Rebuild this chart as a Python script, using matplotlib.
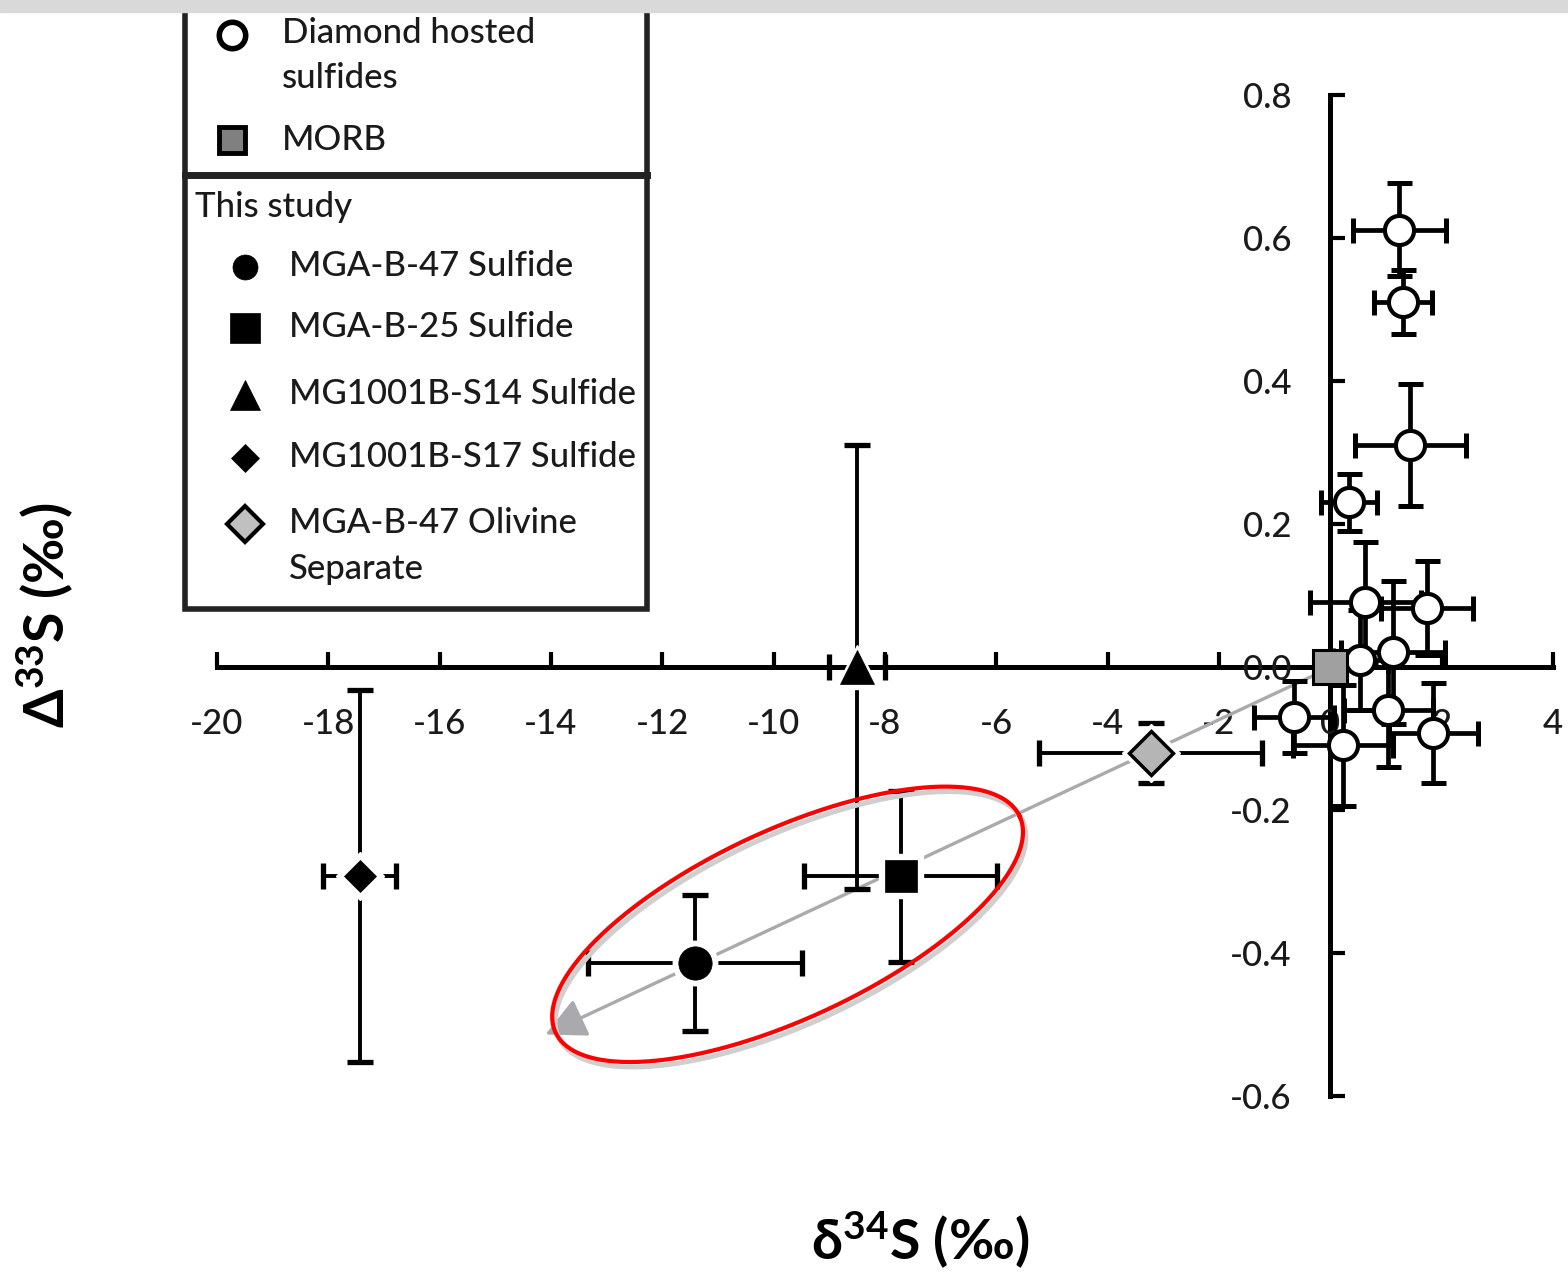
import matplotlib
matplotlib.use("Agg")
import numpy as np
import matplotlib.pyplot as plt
from matplotlib.lines import Line2D
from matplotlib.patches import Rectangle

plt.rcParams['font.family'] = ['Lato', 'DejaVu Sans']
plt.rcParams['font.weight'] = 'medium'
plt.rcParams['axes.unicode_minus'] = False
plt.rcParams['mathtext.fontset'] = 'custom'
plt.rcParams['mathtext.rm'] = 'Lato:bold'
plt.rcParams['mathtext.it'] = 'Lato:bold'
plt.rcParams['mathtext.bf'] = 'Lato:bold'
plt.rcParams['mathtext.default'] = 'rm'
plt.rcParams['mathtext.fallback'] = 'stixsans'

# diamond hosted sulfides (literature)
dia_x = [1.24, 1.31, 1.44, 0.33, 0.63, 1.74, 0.54, 1.13, -0.66, 1.04, 1.85, 0.23]
dia_y = [0.611, 0.51, 0.31, 0.23, 0.09, 0.082, 0.01, 0.02, -0.07, -0.06, -0.092, -0.11]
dia_xerr = [0.83, 0.52, 1.0, 0.5, 1.0, 0.83, 0.5, 0.93, 0.72, 0.8, 0.8, 0.9]
dia_yerr = [0.065, 0.045, 0.085, 0.04, 0.085, 0.066, 0.07, 0.1, 0.05, 0.08, 0.07, 0.085]

# MORB
morb_x = [0.0]
morb_y = [0.0]

# this study
study_names = ['MGA-B-47 Sulfide', 'MGA-B-25 Sulfide', 'MG1001B-S14 Sulfide',
               'MG1001B-S17 Sulfide', 'MGA-B-47 Olivine\nSeparate']
study_x = [-11.42, -7.72, -8.5, -17.44, -3.23]
study_y = [-0.414, -0.293, 0.0, -0.293, -0.12]
study_xerr = [1.92, 1.73, 0.5, 0.65, 2.0]
study_yerr = [0.095, 0.12, 0.31, 0.26, 0.042]

# arrow from MORB towards the sulfides, and the highlighted group
arrow_start = (-0.27, -0.011)
arrow_end = (-14.1, -0.514)
ellipse_center = (-9.75, -0.36)

x_ticks = list(range(-20, 5, 2))
y_ticks = [-0.6, -0.4, -0.2, 0.0, 0.2, 0.4, 0.6, 0.8]

W, H = 1568, 1273
fig = plt.figure(figsize=(W / 100, H / 100), dpi=100)
ax = fig.add_axes([217 / W, 1 - 1096 / H, 1336 / W, 1001.5 / H])
ax.set_xlim(-20, 4)
ax.set_ylim(-0.6, 0.8)

for s in ['top', 'right']:
    ax.spines[s].set_visible(False)
ax.spines['left'].set_position(('data', 0))
ax.spines['bottom'].set_position(('data', 0))
for s in ['left', 'bottom']:
    ax.spines[s].set_linewidth(3.6)
    ax.spines[s].set_zorder(1)
ax.set_xticks(x_ticks)
ax.set_yticks(y_ticks)
ax.set_xticklabels([str(v) for v in x_ticks])
ax.set_yticklabels(['%.1f' % v for v in y_ticks])
ax.tick_params(axis='both', direction='in', length=11, width=3, labelsize=25,
               labelcolor='#1a1a1a')
ax.tick_params(axis='x', pad=30)
ax.tick_params(axis='y', pad=28)
ax.patch.set_visible(False)

# arrow
ax.annotate('', xy=arrow_end, xytext=arrow_start,
            arrowprops=dict(arrowstyle='-|>', mutation_scale=62, lw=2.4,
                            color='#a9a9ae', shrinkA=0, shrinkB=0),
            zorder=2, annotation_clip=False)

# diamond hosted sulfides
ax.errorbar(dia_x, dia_y, xerr=dia_xerr, yerr=dia_yerr, fmt='none', ecolor='black',
            elinewidth=3.4, capsize=9, capthick=3.6, zorder=3, clip_on=False)
ax.plot(dia_x, dia_y, 'o', ms=21, mfc='white', mec='black', mew=3, zorder=4, clip_on=False)

# MORB
ax.plot(morb_x, morb_y, 's', ms=25, mfc='#a0a0a0', mec='black', mew=2.2, zorder=6, clip_on=False)

# this study
ax.errorbar(study_x, study_y, xerr=study_xerr, yerr=study_yerr, fmt='none', ecolor='black',
            elinewidth=2.8, capsize=9.5, capthick=3.8, zorder=3, clip_on=False)
mk = ['o', 's', '^', 'D', 'D']
ms = [24, 23, 24, 16, 22]
fc = ['black', 'black', 'black', 'black', '#b5b5b5']
for i in range(len(study_x)):
    ax.plot(study_x[i], study_y[i], mk[i], ms=ms[i] + 8, mfc='white', mec='white', zorder=4,
            clip_on=False)
    ax.plot(study_x[i], study_y[i], mk[i], ms=ms[i], mfc=fc[i], mec='black',
            mew=2.5 if i == 4 else 0.5, zorder=5, clip_on=False)

# red ellipse drawn in pixel space around the group
c = ax.transData.transform(ellipse_center)
t = np.linspace(0, 2 * np.pi, 400)
th = np.deg2rad(25)
a, b = 256, 94
ex = c[0] + a * np.cos(t) * np.cos(th) - b * np.sin(t) * np.sin(th)
ey = c[1] + a * np.cos(t) * np.sin(th) + b * np.sin(t) * np.cos(th)
inv = ax.transData.inverted()
sh = inv.transform(np.column_stack([ex + 3, ey - 5]))
pts = inv.transform(np.column_stack([ex, ey]))
ax.plot(sh[:, 0], sh[:, 1], color='#cfcfcf', lw=3.5, zorder=7, clip_on=False)
ax.plot(pts[:, 0], pts[:, 1], color='#ff0000', lw=3, zorder=8, clip_on=False)

# axis titles
fig.text(920 / W, 1 - 1240 / H, r'$\delta^{34}$S (‰)', fontsize=40, fontweight='bold',
         ha='center', va='center')
fig.text(45 / W, 1 - 615 / H, r'$\Delta^{33}$S (‰)', fontsize=40, fontweight='bold',
         ha='center', va='center', rotation=90)


# legend, drawn by hand
def fp(x, y):
    return x / W, 1 - y / H


box = Rectangle(fp(185, 609), (647 - 185) / W, (609 - 0) / H, transform=fig.transFigure,
                fill=False, lw=4, ec='#222222', zorder=10)
fig.patches.append(box)
fig.add_artist(Line2D([185 / W, 647 / W], [1 - 175 / H, 1 - 175 / H], lw=5, color='#222222'))

fig.add_artist(Line2D([232 / W], [1 - 35 / H], marker='o', ms=19, mfc='white', mec='black',
                      mew=4, ls='none'))
fig.text(282 / W, 1 - 33 / H, 'Diamond hosted', fontsize=25, va='center', color='#1a1a1a')
fig.text(282 / W, 1 - 78 / H, 'sulfides', fontsize=25, va='center', color='#1a1a1a')
fig.add_artist(Line2D([232 / W], [1 - 140 / H], marker='s', ms=19, mfc='#808080', mec='black',
                      mew=3.5, ls='none'))
fig.text(282 / W, 1 - 140 / H, 'MORB', fontsize=25, va='center', color='#1a1a1a')

fig.text(195 / W, 1 - 207 / H, 'This study', fontsize=25, va='center', color='#1a1a1a')
leg_y = [267, 328, 395, 458, 524]
leg_ms = [18, 21, 21, 14, 18]
leg_fc = ['black', 'black', 'black', 'black', '#c0c0c0']
for i, name in enumerate(study_names):
    fig.add_artist(Line2D([245 / W], [1 - leg_y[i] / H], marker=mk[i], ms=leg_ms[i],
                          mfc=leg_fc[i], mec='black', mew=3 if i == 4 else 0.5, ls='none'))
    lines = name.split('\n')
    for j, ln in enumerate(lines):
        fig.text(289 / W, 1 - (leg_y[i] - 1 + 46 * j) / H, ln, fontsize=25, va='center',
                 color='#1a1a1a')

# grey strip at the top
fig.patches.append(Rectangle((0, 1 - 12 / H), 1, 12 / H, transform=fig.transFigure,
                             color='#d9d9d9', zorder=20))

fig.savefig('out.png', dpi=100)
